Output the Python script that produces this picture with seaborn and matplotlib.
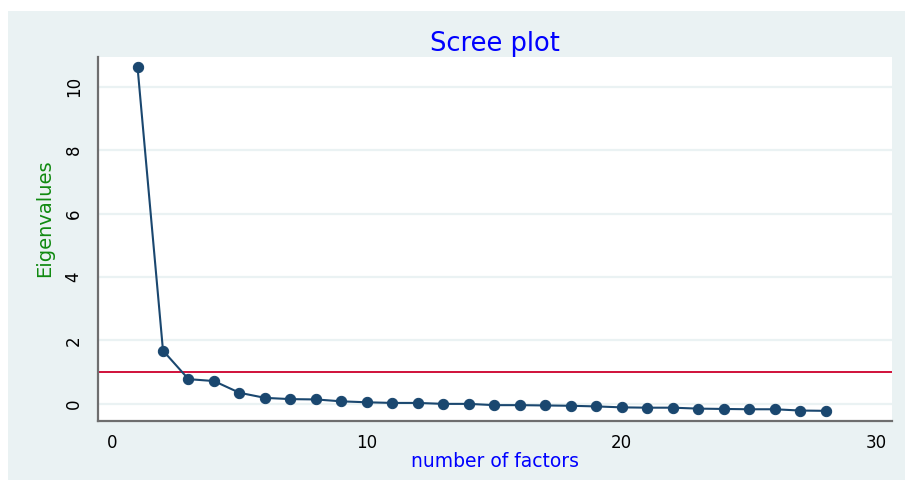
import matplotlib
matplotlib.use("Agg")
import matplotlib.pyplot as plt
import seaborn as sns
import pandas as pd
from matplotlib.patches import Rectangle

factors = list(range(1, 29))
eigenvalues = [10.63, 1.68, 0.78, 0.72, 0.35, 0.19, 0.15, 0.14, 0.08, 0.05,
               0.03, 0.03, 0.00, 0.00, -0.04, -0.04, -0.05, -0.06, -0.08, -0.11,
               -0.12, -0.12, -0.15, -0.16, -0.17, -0.17, -0.21, -0.22]
x_ticks = [0, 10, 20, 30]
y_ticks = [0, 2, 4, 6, 8, 10]
threshold = 1

df = pd.DataFrame({"factor": factors, "eigen": eigenvalues})

sns.set_style("white")
plt.rcParams["font.family"] = ["DejaVu Sans"]

BG = "#eaf2f3"
NAVY = "#1a476f"
SPINE = "#6e6e6e"

fig = plt.figure(figsize=(9.05, 4.8), dpi=100)
fig.patch.set_facecolor("white")
fig.patches.append(Rectangle((8 / 905, 0), 1 - 8 / 905, (480 - 11) / 480,
                             transform=fig.transFigure, facecolor=BG,
                             edgecolor="none", zorder=-10))

ax = fig.add_axes([98 / 905, 1 - 421 / 480, (892 - 98) / 905, (421 - 57) / 480])
ax.set_zorder(1)
ax.set_facecolor("white")

for yt in y_ticks:
    ax.axhline(yt, color=BG, lw=1.6, zorder=0.5)

ax.axhline(threshold, color="#d0103a", lw=1.4, zorder=1)

sns.lineplot(data=df, x="factor", y="eigen", ax=ax, color=NAVY, lw=1.5,
             marker="o", markersize=7.4, markeredgecolor=NAVY,
             markerfacecolor=NAVY, zorder=3)

ax.set_xlim(-0.55, 30.6)
ax.set_ylim(-0.54, 10.94)
ax.set_xticks(x_ticks)
ax.set_yticks(y_ticks)
ax.set_xticklabels([str(t) for t in x_ticks], fontsize=12)
ax.set_yticklabels([str(t) for t in y_ticks], fontsize=12, rotation=90, va="center")

ax.tick_params(axis="x", direction="out", length=4.5, width=1.2, color=SPINE,
               labelcolor="black", pad=5)
ax.tick_params(axis="y", direction="out", length=7, width=1.2, color=SPINE,
               labelcolor="black", pad=4)

for side in ["top", "right"]:
    ax.spines[side].set_visible(False)
for side in ["left", "bottom"]:
    ax.spines[side].set_color(SPINE)
    ax.spines[side].set_linewidth(1.6)

ax.set_xlabel("number of factors", color="#0000ff", fontsize=13.5, labelpad=0)
ax.set_ylabel("Eigenvalues", color="#108a10", fontsize=14)
ax.yaxis.set_label_coords(-0.055, 0.558)
ax.set_title("Scree plot", color="#0000ff", fontsize=18.5, pad=4)

fig.savefig("out.png", dpi=100, facecolor=fig.get_facecolor())
